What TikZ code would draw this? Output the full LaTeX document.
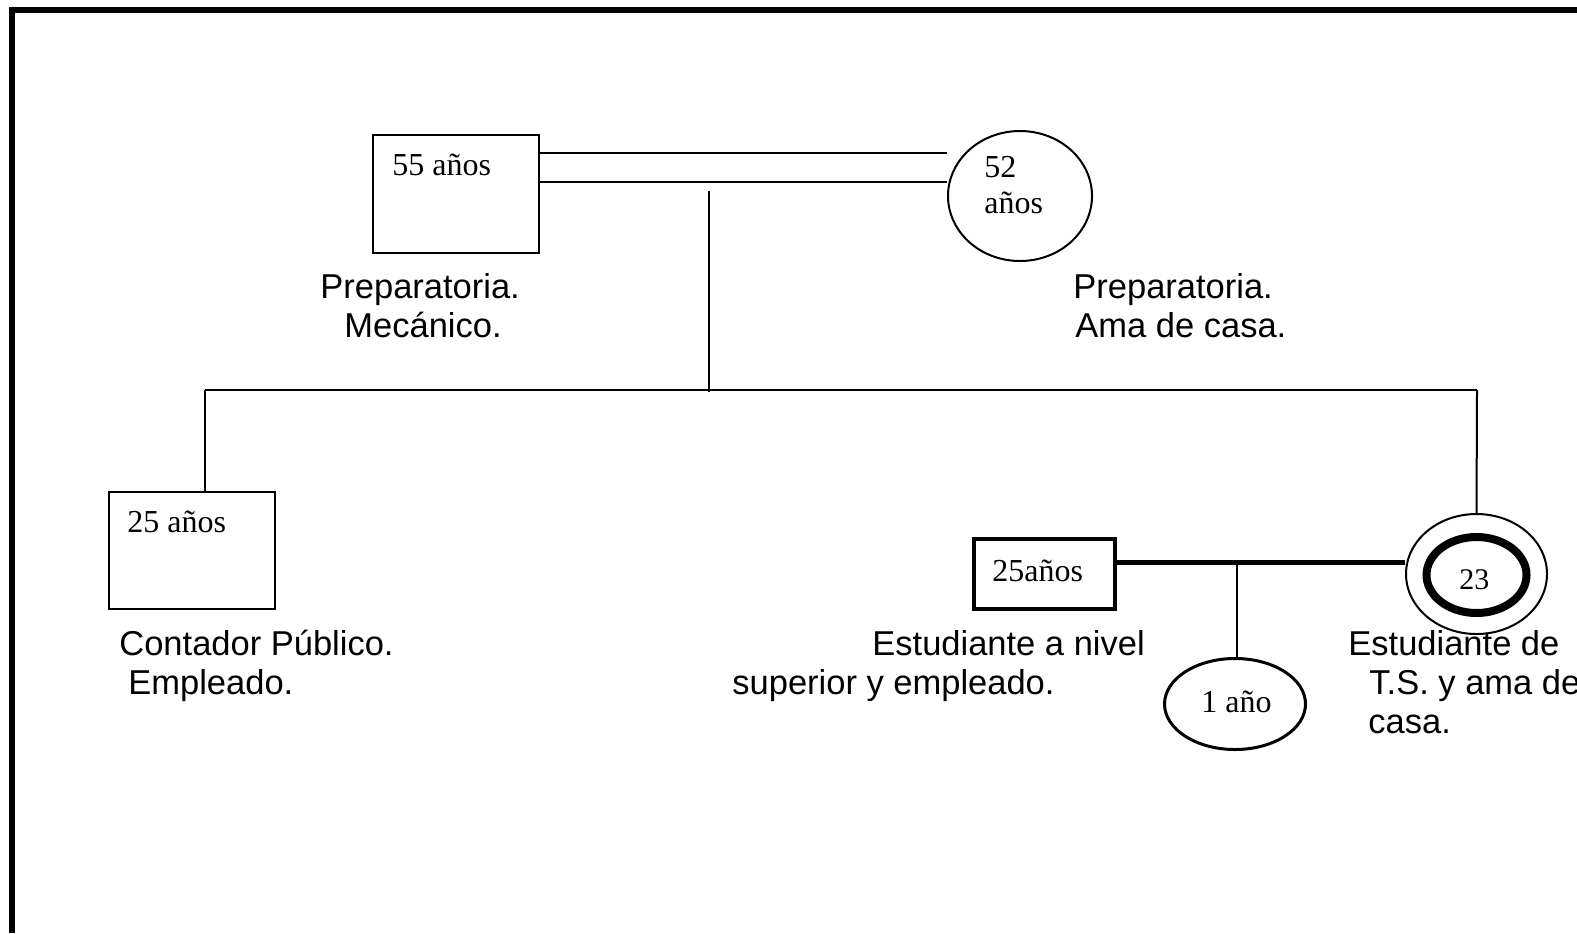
\documentclass[tikz,border=0pt]{standalone}
\usepackage{fontspec}
\setmainfont{Liberation Serif}
\newfontfamily\arialf{Liberation Sans}
\usetikzlibrary{shapes.geometric}
\tikzset{
  thin line/.style={line width=1pt},
  person/.style={draw, line width=1pt, inner sep=0pt},
  male/.style={person, rectangle},
  female/.style={person, ellipse},
  age/.style={anchor=base west, inner sep=0pt, font=\fontsize{16pt}{19pt}\selectfont},
  lbl/.style={anchor=base west, inner sep=0pt, font=\arialf\fontsize{17.25pt}{20pt}\selectfont},
}
\begin{document}
\begin{tikzpicture}[x=0.5pt,y=-0.5pt]
\useasboundingbox (0,0) rectangle (1577,933);
% frame (only top and left edges visible)
\draw[line width=3pt, line join=miter] (12.3,933) -- (12.3,10.3) -- (1577,10.3);

% persons
\node[male, minimum width=83pt, minimum height=59pt] (father) at (456,194) {};
\node[female, minimum width=72pt, minimum height=65pt] (mother) at (1020,196) {};
\node[male, minimum width=83pt, minimum height=58.5pt] (child1) at (192,550.5) {};
\node[male, line width=2pt, minimum width=70.5pt, minimum height=35pt] (spouse) at (1044.5,574) {};
\node[female, minimum width=70.5pt, minimum height=60pt] (daughter) at (1476.5,574) {};
\node[female, line width=4pt, minimum width=50pt, minimum height=38pt] (daughterin) at (1476.5,575) {};
\node[female, line width=1.5pt, minimum width=70.5pt, minimum height=45.5pt] (baby) at (1235,704) {};

% ages
\node[age] (tfather) at (392,175) {55 años};
\node[age] (tmother1) at (984,177) {52};
\node[age] (tmother2) at (984,213) {años};
\node[age] (tchild1) at (127,532) {25 años};
\node[age] (tspouse) at (992,581) {25años};
\node[age, font=\fontsize{15pt}{18pt}\selectfont] (tdaughter) at (1459,589) {23};
\node[age] (tbaby) at (1201,712) {1 año};

% marriage of parents
\draw[thin line] (father.east |- 0,153) -- (mother.west |- 0,153);
\draw[thin line] (father.east |- 0,182) -- (mother.west |- 0,182);
\coordinate (desctop) at (709,191);
\coordinate (descbot) at (709,392);
\draw[thin line] (desctop) -- (descbot);

% sibling line
\coordinate (sibl) at (205,390);
\coordinate (sibr) at (1477,390);
\draw[thin line] (sibl) -- (sibr);
\draw[thin line] (sibl) -- (sibl |- child1.north);
\draw[thin line] (sibr) -- (daughter.north);

% daughter's union
\draw[line width=2.5pt] (spouse.east |- 0,562) -- (daughter.west |- 0,562);
\coordinate (couplemid) at (1237,562);
\draw[thin line] (couplemid) -- (couplemid |- baby.north);

% labels
\node[lbl] (l1) at (320,298) {Preparatoria.};
\node[lbl] (l2) at (344,337) {Mecánico.};
\node[lbl] (l3) at (1073,298) {Preparatoria.};
\node[lbl] (l4) at (1075,337) {Ama de casa.};
\node[lbl] (l5) at (119,655) {Contador Público.};
\node[lbl] (l6) at (128,694) {Empleado.};
\node[lbl] (l7) at (872,655) {Estudiante a nivel};
\node[lbl] (l8) at (732,694) {superior y empleado.};
\node[lbl] (l9) at (1348,655) {Estudiante de};
\node[lbl] (l10) at (1369,694) {T.S. y ama de};
\node[lbl] (l11) at (1368,733) {casa.};
\end{tikzpicture}
\end{document}
